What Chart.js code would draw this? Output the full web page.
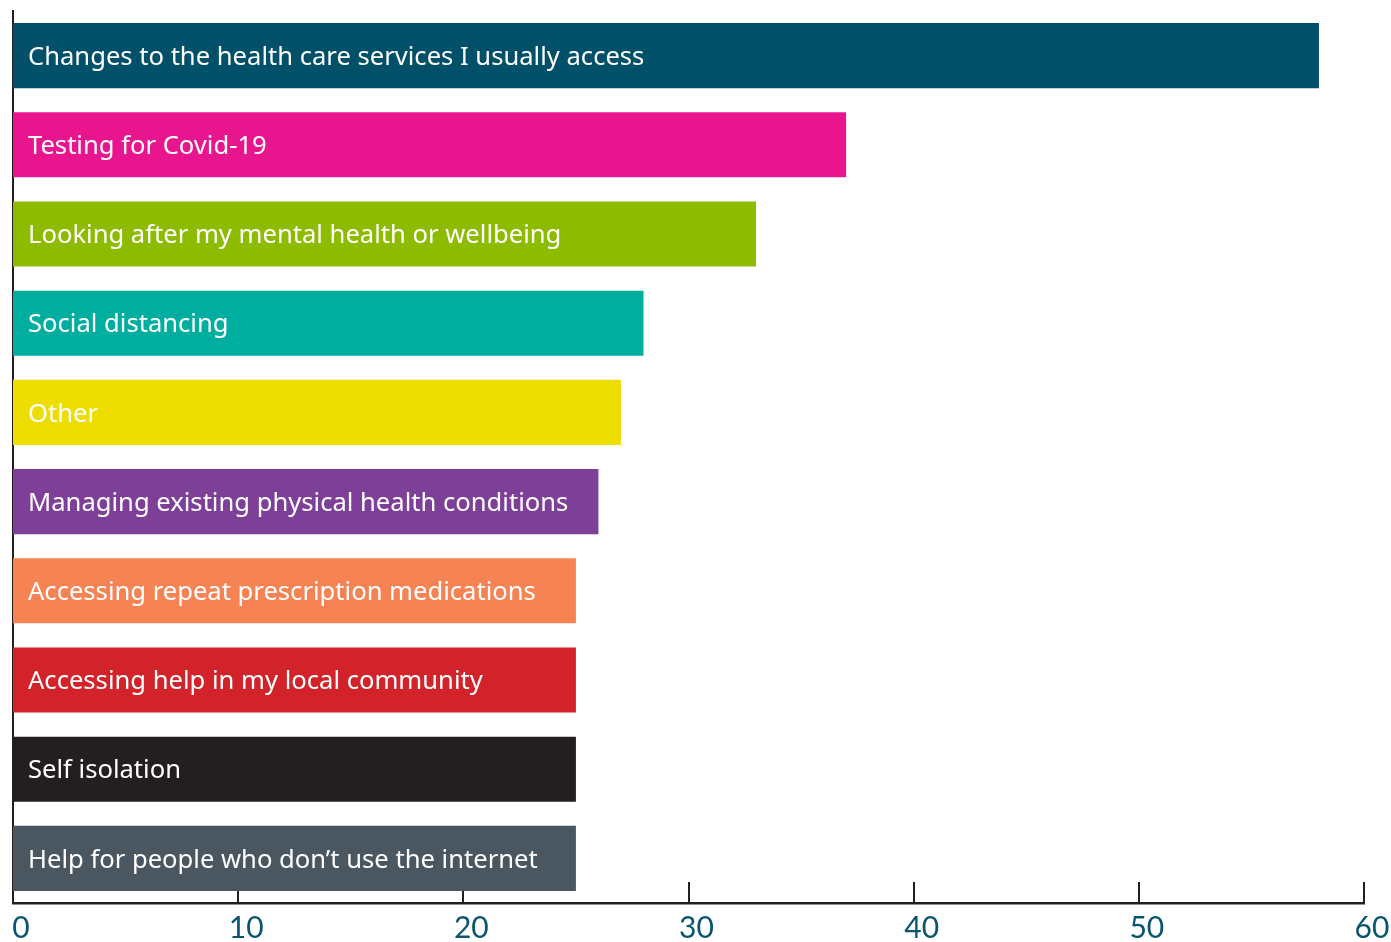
<!DOCTYPE html>
<html>
<head>
<meta charset="utf-8">
<script src="https://cdn.jsdelivr.net/npm/chart.js@4/dist/chart.umd.min.js"></script>
<style>
  html, body { margin: 0; padding: 0; background: #fff; }
  #wrap { width: 1391px; height: 942px; }
</style>
</head>
<body>
<div id="wrap"><canvas id="topicsChart"></canvas></div>
<script>
const categories = [
    'Changes to the health care services I usually access',
    'Testing for Covid-19',
    'Looking after my mental health or wellbeing',
    'Social distancing',
    'Other',
    'Managing existing physical health conditions',
    'Accessing repeat prescription medications',
    'Accessing help in my local community',
    'Self isolation',
    'Help for people who don\u2019t use the internet'
];
const values = [58, 37, 33, 28, 27, 26, 25, 25, 25, 25];
const barColours = [
    '#005069', '#e8158f', '#8dbb00', '#00aea0', '#eedd00',
    '#7e3f98', '#f58354', '#d2232a', '#231f20', '#4b5760'
];
const tickLabels = ['0', '10', '20', '30', '40', '50', '60'];

const axisColour = '#231f20';

// short tick marks above the x axis, drawn under the bars
const tickMarks = {
    id: 'tickMarks',
    beforeDatasetsDraw(chart) {
        const x = chart.scales.x;
        const ctx = chart.ctx;
        const bottom = chart.chartArea.bottom;
        ctx.save();
        ctx.strokeStyle = axisColour;
        ctx.lineWidth = 2;
        x.ticks.forEach(t => {
            if (t.value === 0) return;
            const px = Math.round(x.getPixelForValue(t.value));
            ctx.beginPath();
            ctx.moveTo(px, bottom - 21);
            ctx.lineTo(px, bottom);
            ctx.stroke();
        });
        ctx.restore();
    }
};

// category names written inside the bars
const barLabels = {
    id: 'barLabels',
    afterDatasetsDraw(chart) {
        const ctx = chart.ctx;
        const meta = chart.getDatasetMeta(0);
        const x0 = chart.scales.x.getPixelForValue(0);
        ctx.save();
        ctx.fillStyle = '#ffffff';
        ctx.font = '25.6px "Noto Sans"';
        ctx.textBaseline = 'middle';
        ctx.textAlign = 'left';
        meta.data.forEach((bar, i) => {
            ctx.fillText(categories[i], x0 + 15, bar.y + 2);
        });
        ctx.restore();
    }
};

new Chart(document.getElementById('topicsChart'), {
    type: 'bar',
    data: {
        labels: categories,
        datasets: [{
            data: values,
            backgroundColor: barColours,
            borderWidth: 0,
            barPercentage: 0.73,
            categoryPercentage: 1
        }]
    },
    options: {
        indexAxis: 'y',
        responsive: true,
        maintainAspectRatio: false,
        animation: false,
        layout: { padding: { top: 11, right: 27, left: 13, bottom: 0 } },
        plugins: {
            legend: { display: false },
            tooltip: { enabled: false }
        },
        scales: {
            x: {
                min: 0,
                max: 60,
                ticks: {
                    stepSize: 10,
                    color: '#0b5470',
                    font: { family: 'Lato', size: 30, lineHeight: 1 },
                    padding: 10,
                    labelOffset: 8,
                    maxRotation: 0,
                    callback: (v, i) => tickLabels[i]
                },
                grid: { display: false, drawTicks: false },
                border: { display: true, color: axisColour, width: 2.5 },
                afterFit(scale) {
                    scale.height = 39;
                    scale.paddingLeft = 0;
                    scale.paddingRight = 0;
                }
            },
            y: {
                ticks: { display: false },
                grid: { display: false, drawTicks: false },
                border: { display: true, color: axisColour, width: 2 },
                afterFit(scale) {
                    scale.width = 0;
                }
            }
        }
    },
    plugins: [tickMarks, barLabels]
});
</script>
</body>
</html>
